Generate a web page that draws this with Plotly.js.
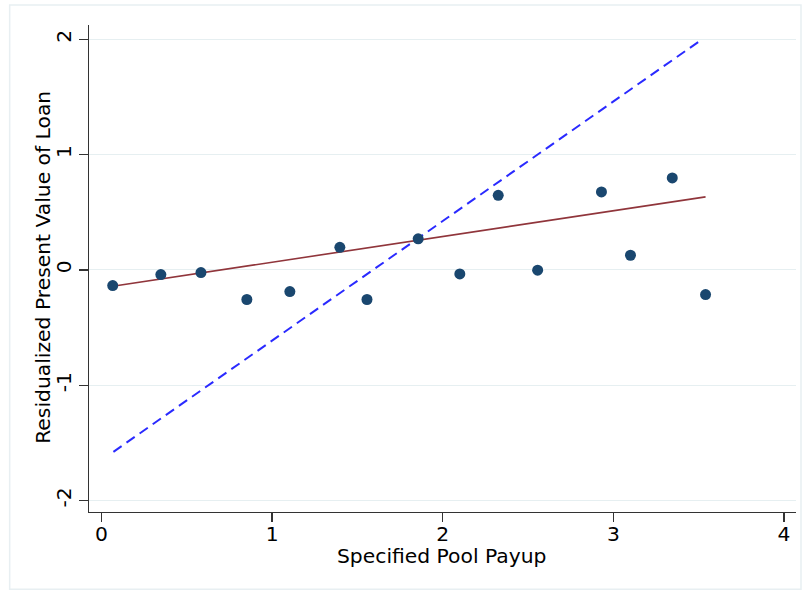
<!DOCTYPE html>
<html>
<head>
<meta charset="utf-8">
<script src="https://cdn.plot.ly/plotly-3.0.1.min.js"></script>
<style>html,body{margin:0;padding:0;background:#fff;}#chart{width:804px;height:590px;}</style>
</head>
<body>
<div id="chart"></div>
<script>
// Binned scatter points
const payup = [0.066, 0.348, 0.583, 0.852, 1.104, 1.397, 1.556, 1.856, 2.10, 2.325, 2.556, 2.93, 3.10, 3.345, 3.54];
const residPV = [-0.136, -0.041, -0.023, -0.257, -0.188, 0.196, -0.257, 0.269, -0.035, 0.647, -0.003, 0.676, 0.127, 0.798, -0.214];
// Fitted line (endpoints)
const fitX = [0.066, 3.54];
const fitY = [-0.142, 0.633];
// Dashed reference line (endpoints)
const refX = [0.07, 3.517];
const refY = [-1.578, 1.997];
// Tick labels and titles
const xTicks = [0, 1, 2, 3, 4];
const yTicks = [-2, -1, 0, 1, 2];
const xTitle = 'Specified Pool Payup';
const yTitle = 'Residualized Present Value of Loan';

const traces = [
  {x: refX, y: refY, type: 'scatter', mode: 'lines',
   line: {color: '#2a2aff', width: 2, dash: '10px,6px'}, hoverinfo: 'skip'},
  {x: fitX, y: fitY, type: 'scatter', mode: 'lines',
   line: {color: '#90353b', width: 1.6}, hoverinfo: 'skip'},
  {x: payup, y: residPV, type: 'scatter', mode: 'markers',
   marker: {color: '#1a476f', size: 11}}
];

const L = 89.3, R = 796, T = 25, B = 511.7;
const px = v => (v - L) / (R - L);
const py = v => (B - v) / (B - T);
const FS = 20.3;
const tf = {family: 'DejaVu Sans', size: FS, color: '#000'};

const layout = {
  width: 804, height: 590,
  margin: {l: L, r: 804 - R, t: T, b: 590 - B},
  paper_bgcolor: '#ffffff', plot_bgcolor: '#ffffff',
  showlegend: false,
  font: tf,
  xaxis: {
    range: [-0.073, 4.07], tickvals: xTicks, ticktext: xTicks.map(String),
    showgrid: false, zeroline: false,
    showline: true, linecolor: '#333', linewidth: 1.3,
    ticks: 'outside', ticklen: 9, tickcolor: '#333', tickwidth: 1.3,
    ticklabelstandoff: -6,
    tickfont: tf
  },
  yaxis: {
    range: [-2.10, 2.124], tickvals: yTicks, ticktext: yTicks.map(String),
    tickangle: -90,
    showgrid: true, gridcolor: '#e6eff1', gridwidth: 1, zeroline: false,
    showline: true, linecolor: '#333', linewidth: 1.3,
    ticks: 'outside', ticklen: 9, tickcolor: '#333', tickwidth: 1.3,
    tickfont: tf
  },
  annotations: [
    {text: xTitle, xref: 'paper', yref: 'paper', x: px(441.5), y: py(556),
     xanchor: 'center', yanchor: 'middle', showarrow: false, font: tf},
    {text: yTitle, xref: 'paper', yref: 'paper', x: px(42.5), y: py(267.5),
     xanchor: 'center', yanchor: 'middle', textangle: -90, showarrow: false, font: tf}
  ],
  shapes: [
    {type: 'rect', xref: 'paper', yref: 'paper',
     x0: px(10), x1: px(801), y0: py(589), y1: py(5),
     line: {color: '#e8eff2', width: 1.5}, fillcolor: 'rgba(0,0,0,0)', layer: 'below'}
  ]
};

Plotly.newPlot('chart', traces, layout, {displayModeBar: false, staticPlot: true});
</script>
</body>
</html>
